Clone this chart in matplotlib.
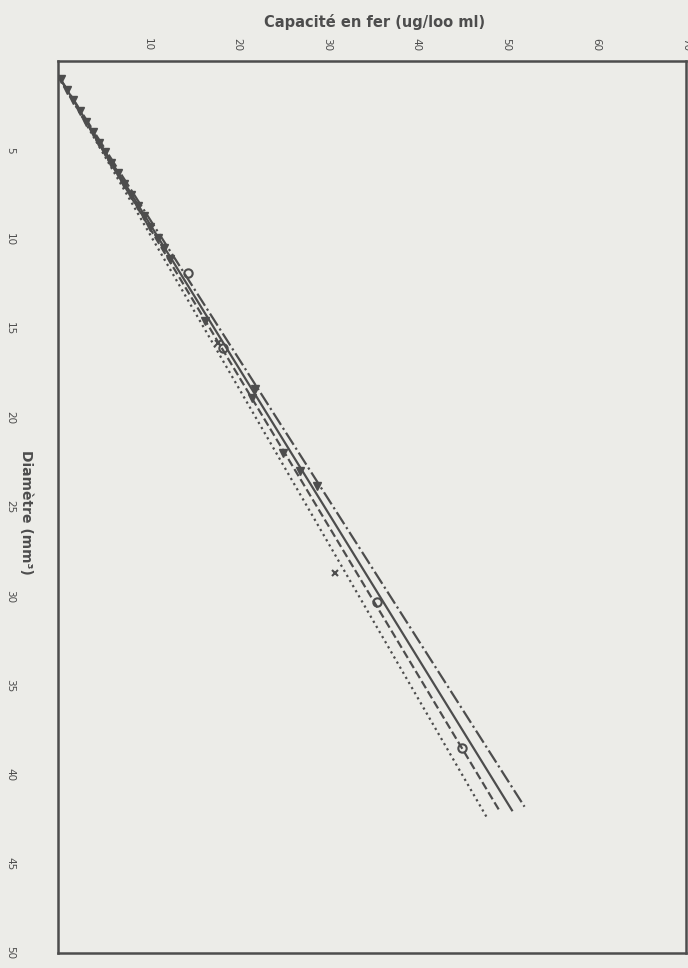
import numpy as np
import matplotlib
matplotlib.use('Agg')
import matplotlib.pyplot as plt

# droites (départ commun, extrémité de chaque droite)
start_x, start_y = 0.0, 0.8
lines_end_x = [47.8, 49.3, 50.6, 52.0]
lines_end_y = [42.4, 42.1, 42.0, 41.8]
lines_style = [':', '--', '-', '-.']

# points mesurés, par symbole
pts_fill_x = [0.3, 1.0, 1.7, 2.4, 3.1, 3.9, 4.6, 5.2, 5.9, 6.7, 7.4, 8.1, 8.9, 9.6,
              10.3, 11.1, 11.8, 12.5, 16.4, 22.0, 21.6, 25.1, 27.0, 28.9]
pts_fill_y = [1.0, 1.6, 2.2, 2.8, 3.4, 4.0, 4.6, 5.1, 5.7, 6.3, 6.9, 7.5, 8.1, 8.7,
              9.3, 9.9, 10.5, 11.1, 14.6, 18.4, 18.9, 22.0, 23.0, 23.8]
pts_circle_x = [14.5, 18.4, 35.6, 45.0]
pts_circle_y = [11.9, 16.1, 30.3, 38.5]
pts_cross_x = [17.8, 30.9]
pts_cross_y = [15.8, 28.7]

x_ticks = [10, 20, 30, 40, 50, 60, 70]
y_ticks = [5, 10, 15, 20, 25, 30, 35, 40, 45, 50]

bg = '#ecece8'
ink = '#4d4d4d'

fig = plt.figure(figsize=(6.88, 9.68), dpi=100, facecolor=bg)
ax = fig.add_axes([58/688, 1-953/968, 628/688, 892/968])
ax.set_facecolor(bg)

for ex, ey, ls in zip(lines_end_x, lines_end_y, lines_style):
    ax.plot([start_x, ex], [start_y, ey], ls=ls, color=ink, lw=1.6)

ax.plot(pts_fill_x, pts_fill_y, 'v', color=ink, ms=6, ls='none')
ax.plot(pts_circle_x, pts_circle_y, 'o', mfc='none', mec=ink, mew=1.5, ms=6, ls='none')
ax.plot(pts_cross_x, pts_cross_y, 'x', color=ink, mew=1.5, ms=5, ls='none')

ax.set_xlim(0, 70)
ax.set_ylim(50, 0)
ax.xaxis.tick_top()
ax.set_xticks(x_ticks)
ax.set_yticks(y_ticks)
ax.set_xticklabels([str(v) for v in x_ticks], rotation=-90, fontsize=7.5, color=ink)
ax.set_yticklabels([str(v) for v in y_ticks], rotation=-90, fontsize=7.5, color=ink,
                   va='center')
ax.tick_params(axis='x', length=0, pad=7)
ax.tick_params(axis='y', length=0, pad=31)
for s in ax.spines.values():
    s.set_linewidth(1.8)
    s.set_color(ink)

fig.text(375/688, 1-22/968, 'Capacité en fer (ug/loo ml)', ha='center', va='center',
         fontsize=10.5, fontweight='bold', color=ink)
fig.text(26/688, 1-512/968, 'Diamètre (mm³)', ha='center', va='center',
         rotation=-90, fontsize=10, fontweight='bold', color=ink)

plt.savefig('out.png', dpi=100, facecolor=bg)
